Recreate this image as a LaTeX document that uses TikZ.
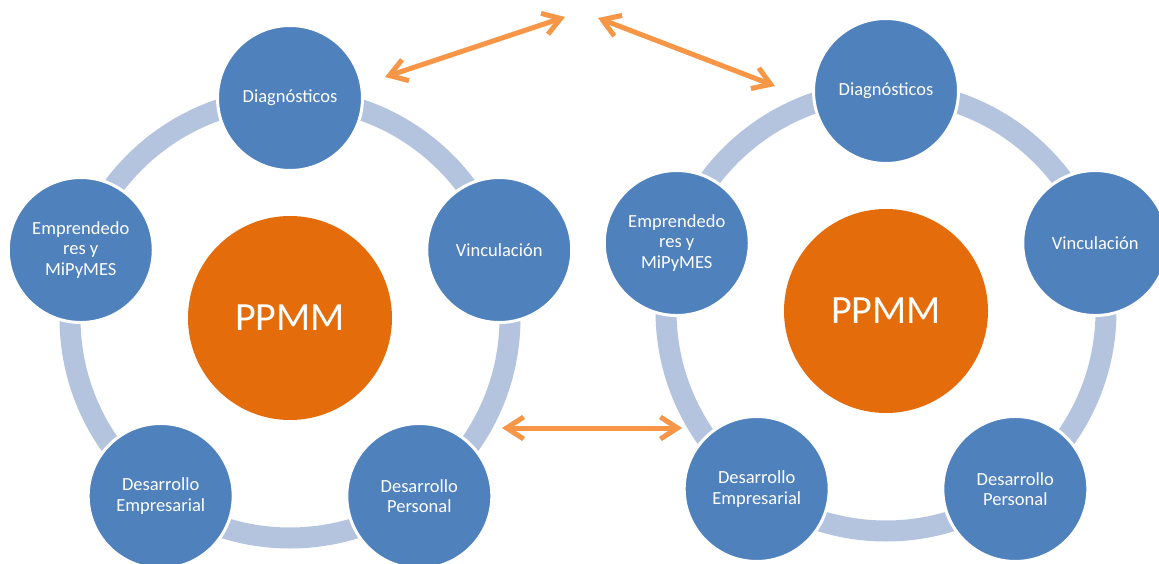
\documentclass[tikz,border=0pt]{standalone}
\usepackage{fontspec}
\setmainfont{Carlito}
\usetikzlibrary{arrows.meta}
\definecolor{nodeblue}{RGB}{79,129,189}
\definecolor{ringblue}{RGB}{180,196,223}
\definecolor{coreorange}{RGB}{228,108,10}
\definecolor{arroworange}{RGB}{247,150,70}
\begin{document}
\begin{tikzpicture}[x=1pt,y=1pt,
  stage/.style={circle, fill=nodeblue, draw=white, line width=3pt, minimum size=145pt, inner sep=0pt, text=white, align=center, font=\fontsize{18.5}{20.5}\selectfont},
  core/.style={circle, fill=coreorange, minimum size=204pt, inner sep=0pt, text=white, font=\fontsize{40}{48}\selectfont},
  ringline/.style={draw=ringblue, line width=21pt},
  link/.style={draw=arroworange, line width=5pt, {Straight Barb[length=17pt,width=22pt]}-{Straight Barb[length=17pt,width=22pt]}}
]
\fill[white] (0,0) rectangle (1159,563);
\useasboundingbox (0,0) rectangle (1159,563);

\foreach \cx/\cy/\pre in {290/245/L-, 886/252/R-}{
  \begin{scope}[shift={(\cx,\cy)}, name prefix=\pre]
    \draw[ringline] (0,0) circle[radius=220];
    \node[core] (core) at (0,0) {PPMM};
    \node[stage] (diag) at (90:220) {Diagnósticos};
    \node[stage] (vinc) at (18:220) {Vinculación};
    \node[stage] (dper) at (-54:220) {Desarrollo\\Personal};
    \node[stage] (demp) at (-126:220) {Desarrollo\\Empresarial};
    \node[stage] (empr) at (162:220) {Emprendedo\\res y\\MiPyMES};
  \end{scope}
}

\coordinate (t1) at (385,486);
\coordinate (t2) at (565,546);
\coordinate (t3) at (598,545);
\coordinate (t4) at (775,477);
\coordinate (t5) at (502,135);
\coordinate (t6) at (682,135);
\draw[link] (t1) -- (t2);
\draw[link] (t3) -- (t4);
\draw[link] (t5) -- (t6);
\end{tikzpicture}
\end{document}
